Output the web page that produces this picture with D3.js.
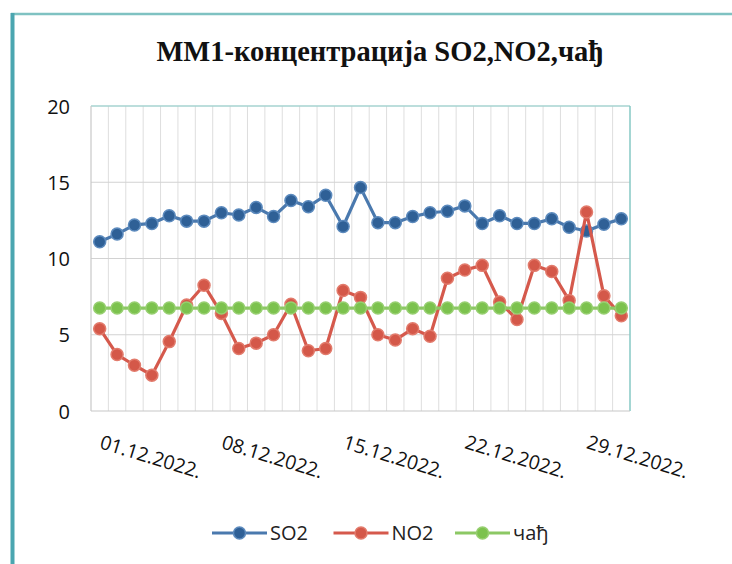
<!DOCTYPE html>
<html><head><meta charset="utf-8">
<script src="https://cdn.jsdelivr.net/npm/d3@7"></script>
<style>html,body{margin:0;padding:0;background:#fff;}</style>
</head><body>
<svg id="c" width="732" height="564"></svg>
<script>
const days = d3.range(1, 32).map(d => String(d).padStart(2, "0") + ".12.2022.");
const tickLabels = ["01.12.2022.", "08.12.2022.", "15.12.2022.", "22.12.2022.", "29.12.2022."];
const yTicks = [0, 5, 10, 15, 20];
const so2 = [11.1, 11.6, 12.2, 12.3, 12.8, 12.45, 12.45, 13.0, 12.85, 13.35, 12.75, 13.8, 13.4, 14.15, 12.1, 14.65,
             12.35, 12.35, 12.75, 13.0, 13.1, 13.45, 12.3, 12.8, 12.3, 12.3, 12.6, 12.05, 11.8, 12.25, 12.6];
const no2 = [5.4, 3.7, 3.0, 2.35, 4.55, 6.95, 8.25, 6.4, 4.1, 4.45, 5.0, 7.0, 3.95, 4.1, 7.9, 7.45,
             5.0, 4.65, 5.4, 4.9, 8.7, 9.25, 9.55, 7.15, 6.0, 9.55, 9.15, 7.25, 13.05, 7.55, 6.25];
const cad = [6.75, 6.75, 6.75, 6.75, 6.75, 6.75, 6.75, 6.75, 6.75, 6.75, 6.75, 6.75, 6.75, 6.75, 6.75, 6.75,
             6.75, 6.75, 6.75, 6.75, 6.75, 6.75, 6.75, 6.75, 6.75, 6.75, 6.75, 6.75, 6.75, 6.75, 6.75];
const seriesNames = ["SO2", "NO2", "чађ"];

const svg = d3.select("#c");
const L = 91, R = 630, T = 106, B = 411;
const x = d3.scaleBand().domain(days).range([L, R]).paddingInner(0).paddingOuter(0);
const cx = d => x(d) + x.bandwidth() / 2;
const y = d3.scaleLinear().domain([0, 20]).range([B, T]);

// outer frame
svg.append("line").attr("x1", 11).attr("x2", 732).attr("y1", 14).attr("y2", 14)
  .attr("stroke", "#7fc2c2").attr("stroke-width", 2.5);
svg.append("line").attr("x1", 12.5).attr("x2", 12.5).attr("y1", 13).attr("y2", 564)
  .attr("stroke", "#4ba6b0").attr("stroke-width", 4);

// title
svg.append("text").attr("x", 380).attr("y", 61).attr("text-anchor", "middle")
  .attr("font-family", "Liberation Serif, Times New Roman, serif").attr("font-weight", "bold")
  .attr("font-size", 28.5).attr("fill", "#111").text("ММ1-концентрација SO2,NO2,чађ");

// vertical grid lines (category boundaries)
const g = svg.append("g");
g.selectAll("line.v").data(days.slice(1)).join("line")
  .attr("x1", d => x(d)).attr("x2", d => x(d)).attr("y1", T).attr("y2", B)
  .attr("stroke", "#dedede").attr("stroke-width", 1);
// horizontal grid lines
g.selectAll("line.h").data(yTicks.filter(v => v > 0 && v < 20)).join("line")
  .attr("x1", L).attr("x2", R).attr("y1", d => y(d)).attr("y2", d => y(d))
  .attr("stroke", "#d2d2d2").attr("stroke-width", 1);
// plot border
svg.append("line").attr("x1", L).attr("x2", R).attr("y1", T).attr("y2", T).attr("stroke", "#a6d3d1").attr("stroke-width", 1.5);
svg.append("line").attr("x1", R).attr("x2", R).attr("y1", T).attr("y2", B).attr("stroke", "#86c8c5").attr("stroke-width", 1.5);
svg.append("line").attr("x1", L).attr("x2", L).attr("y1", T).attr("y2", B).attr("stroke", "#c8c8c8").attr("stroke-width", 1.2);
svg.append("line").attr("x1", L).attr("x2", R).attr("y1", B).attr("y2", B).attr("stroke", "#c8c8c8").attr("stroke-width", 1.2);

// y axis labels
const yAxis = d3.axisLeft(y).tickValues(yTicks).tickSize(0).tickPadding(0);
const ya = svg.append("g").attr("transform", `translate(70,0)`).call(yAxis);
ya.select(".domain").remove();
ya.selectAll("text").attr("font-family", "Open Sans, sans-serif").attr("font-size", 20)
  .attr("fill", "#111").attr("dy", "0.36em");

// x axis labels (rotated)
svg.append("g").selectAll("text").data(tickLabels).join("text")
  .attr("transform", d => `translate(${cx(d) - 1},448) rotate(17)`)
  .attr("font-family", "Open Sans, sans-serif").attr("font-size", 19.5).attr("fill", "#111")
  .text(d => d);

// series
const styles = [
  {data: so2, line: "#4a79ae", fill: "#2f6096", stroke: "#5c8abd"},
  {data: no2, line: "#d5594c", fill: "#d45849", stroke: "#e27b6c"},
  {data: cad, line: "#8cc864", fill: "#7cc24e", stroke: "#97cf70"}
];
const line = d3.line().x((v, i) => cx(days[i])).y(v => y(v));
styles.forEach(s => {
  svg.append("path").datum(s.data).attr("d", line).attr("fill", "none")
    .attr("stroke", s.line).attr("stroke-width", 3.2).attr("stroke-linejoin", "round");
  svg.append("g").selectAll("circle").data(s.data).join("circle")
    .attr("cx", (v, i) => cx(days[i])).attr("cy", v => y(v)).attr("r", 6)
    .attr("fill", s.fill).attr("stroke", s.stroke).attr("stroke-width", 1.5);
});

// legend
const legX = d3.scalePoint().domain(seriesNames).range([212, 455]);
const leg = svg.append("g").selectAll("g").data(seriesNames).join("g")
  .attr("transform", d => `translate(${legX(d)},533)`);
leg.append("line").attr("x1", 0).attr("x2", 55).attr("y1", 0).attr("y2", 0)
  .attr("stroke", (d, i) => styles[i].line).attr("stroke-width", 3.2);
leg.append("circle").attr("cx", 27.5).attr("cy", 0).attr("r", 6)
  .attr("fill", (d, i) => styles[i].fill).attr("stroke", (d, i) => styles[i].stroke).attr("stroke-width", 1.5);
leg.append("text").attr("x", 58).attr("y", 7).attr("font-family", "Open Sans, sans-serif")
  .attr("font-size", 20).attr("fill", "#222").text(d => d);
</script>
</body></html>
